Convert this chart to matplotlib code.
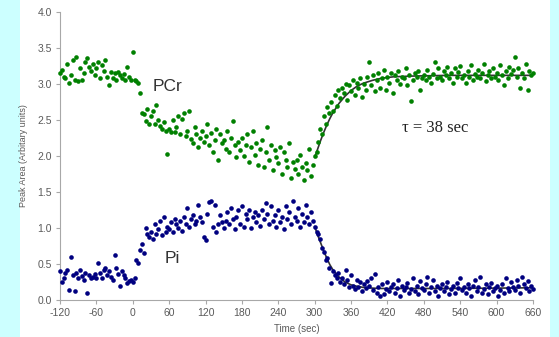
import numpy as np
import matplotlib
matplotlib.use("Agg")
import matplotlib.pyplot as plt
from matplotlib.patches import Rectangle

plt.rcParams["axes.unicode_minus"] = False

# sampling grid of the spectra (one every 3 sec)
time = np.arange(-120, 661, 3)

pcr = [
    3.15, 3.20, 3.10, 3.08, 3.28, 3.02, 3.12, 3.33, 3.05, 3.38,
    3.04, 3.22, 3.06, 3.15, 3.30, 3.36, 3.24, 3.18, 3.28, 3.12,
    3.22, 3.30, 3.08, 3.26, 3.18, 3.33, 3.10, 2.98, 3.17, 3.08,
    3.15, 3.05, 3.16, 3.12, 3.08, 3.14, 3.05, 3.23, 3.10, 3.06,
    3.45, 3.06, 3.04, 3.02, 2.88, 2.60, 2.58, 2.48, 2.65, 2.45,
    2.55, 2.62, 2.44, 2.71, 2.50, 2.42, 2.38, 2.47, 2.35, 2.03,
    2.37, 2.34, 2.50, 2.33, 2.40, 2.55, 2.30, 2.52, 2.60, 2.28,
    2.35, 2.62, 2.23, 2.18, 2.40, 2.30, 2.12, 2.25, 2.35, 2.20,
    2.28, 2.45, 2.15, 2.32, 2.05, 2.22, 2.38, 1.95, 2.30, 2.18,
    2.22, 2.10, 2.35, 2.05, 2.25, 2.48, 2.15, 1.98, 2.20, 2.08,
    2.25, 2.00, 2.15, 2.30, 1.92, 2.12, 2.35, 2.02, 2.18, 1.88,
    2.10, 2.22, 1.85, 2.05, 2.40, 1.95, 2.15, 1.80, 2.08, 1.98,
    1.90, 2.12, 1.75, 2.05, 1.95, 1.85, 2.18, 1.70, 1.92, 1.82,
    1.95, 1.75, 2.02, 1.85, 1.66, 1.90, 1.80, 2.10, 1.72, 1.88,
    2.00, 2.05, 2.20, 2.38, 2.30, 2.55, 2.45, 2.68, 2.60, 2.75,
    2.62, 2.85, 2.70, 2.92, 2.80, 2.95, 2.88, 3.00, 2.78, 2.98,
    2.90, 3.05, 2.85, 3.02, 2.95, 3.08, 2.82, 3.00, 2.92, 3.10,
    3.30, 2.98, 3.12, 2.90, 3.05, 3.15, 2.95, 3.08, 3.20, 2.92,
    3.10, 3.02, 3.15, 2.88, 3.12, 3.05, 3.18, 3.00, 3.10, 3.08,
    3.22, 2.98, 3.12, 2.76, 3.05, 3.15, 3.10, 3.18, 2.92, 3.08,
    3.12, 3.05, 3.20, 3.10, 3.02, 3.14, 3.31, 3.08, 3.22, 3.10,
    3.05, 3.18, 3.12, 3.24, 3.08, 3.15, 3.02, 3.22, 3.10, 3.16,
    3.25, 3.08, 3.12, 3.02, 3.18, 3.10, 3.26, 3.05, 3.14, 3.10,
    3.20, 3.08, 3.15, 3.28, 3.04, 3.12, 3.18, 3.08, 3.22, 3.10,
    3.15, 3.05, 3.26, 3.12, 2.98, 3.18, 3.08, 3.24, 3.14, 3.20,
    3.37, 3.10, 3.22, 2.95, 3.15, 3.08, 3.28, 2.92, 3.18, 3.12,
    3.15,
]

pi = [
    0.40, 0.25, 0.30, 0.38, 0.42, 0.14, 0.60, 0.35, 0.12, 0.38,
    0.30, 0.42, 0.33, 0.28, 0.38, 0.10, 0.35, 0.30, 0.32, 0.36,
    0.30, 0.52, 0.38, 0.30, 0.42, 0.45, 0.35, 0.40, 0.32, 0.28,
    0.62, 0.44, 0.36, 0.20, 0.40, 0.35, 0.30, 0.24, 0.26, 0.28,
    0.25, 0.30, 0.55, 0.52, 0.70, 0.78, 0.65, 1.00, 0.92, 0.88,
    0.95, 0.85, 1.05, 0.92, 0.98, 1.10, 0.90, 1.15, 0.95, 1.02,
    0.98, 1.08, 0.95, 1.12, 1.05, 1.00, 1.10, 0.96, 1.15, 1.05,
    1.28, 1.02, 1.12, 1.18, 1.05, 1.10, 1.32, 1.15, 1.08, 0.88,
    0.83, 1.20, 1.36, 1.38, 1.02, 1.32, 0.95, 1.05, 1.18, 1.08,
    1.00, 1.10, 1.22, 1.06, 1.28, 1.12, 0.98, 1.15, 1.25, 1.05,
    1.30, 1.02, 1.20, 1.12, 1.25, 1.00, 1.15, 1.22, 1.08, 1.18,
    1.03, 1.25, 1.12, 1.35, 1.20, 1.05, 1.30, 1.10, 1.18, 1.02,
    1.25, 1.08, 1.15, 0.98, 1.30, 1.12, 1.22, 1.05, 1.38, 1.15,
    1.10, 1.28, 1.02, 1.20, 1.08, 1.32, 1.15, 1.05, 1.22, 1.10,
    1.02, 0.95, 0.92, 0.85, 0.72, 0.66, 0.55, 0.58, 0.45, 0.24,
    0.40, 0.35, 0.30, 0.38, 0.25, 0.30, 0.22, 0.42, 0.28, 0.18,
    0.35, 0.20, 0.15, 0.28, 0.18, 0.25, 0.12, 0.22, 0.17, 0.26,
    0.20, 0.30, 0.14, 0.36, 0.10, 0.18, 0.06, 0.22, 0.08, 0.15,
    0.25, 0.12, 0.18, 0.22, 0.10, 0.16, 0.28, 0.05, 0.20, 0.14,
    0.18, 0.24, 0.10, 0.15, 0.30, 0.12, 0.20, 0.08, 0.26, 0.16,
    0.14, 0.22, 0.32, 0.10, 0.18, 0.28, 0.12, 0.20, 0.06, 0.16,
    0.22, 0.12, 0.18, 0.25, 0.08, 0.15, 0.20, 0.10, 0.24, 0.16,
    0.30, 0.14, 0.18, 0.10, 0.22, 0.16, 0.06, 0.20, 0.28, 0.12,
    0.18, 0.32, 0.10, 0.15, 0.22, 0.08, 0.18, 0.24, 0.12, 0.16,
    0.20, 0.06, 0.14, 0.22, 0.10, 0.30, 0.16, 0.12, 0.25, 0.18,
    0.14, 0.28, 0.20, 0.10, 0.32, 0.22, 0.16, 0.26, 0.12, 0.20,
    0.15,
]

# fitted recovery curves
fit_t = [300, 305, 310, 315, 320, 325, 330, 340, 350, 360, 370, 380,
         395, 410, 430, 460, 520, 600, 660]
pcr_fit = [1.98, 2.10, 2.22, 2.33, 2.43, 2.52, 2.60, 2.73, 2.83, 2.91, 2.97,
           3.01, 3.05, 3.08, 3.10, 3.11, 3.12, 3.12, 3.12]
pi_fit = [1.02, 0.90, 0.79, 0.68, 0.58, 0.49, 0.42, 0.32, 0.25, 0.21, 0.19,
          0.175, 0.165, 0.16, 0.16, 0.16, 0.16, 0.165, 0.17]

x_ticks = [-120, -60, 0, 60, 120, 180, 240, 300, 360, 420, 480, 540, 600, 660]
y_ticks = [0.0, 0.5, 1.0, 1.5, 2.0, 2.5, 3.0, 3.5, 4.0]

fig = plt.figure(figsize=(5.59, 3.37), dpi=100, facecolor="#ccffff")
# white panel behind the chart, cyan margins left and right
fig.patches.append(Rectangle((20 / 559, 0), 530 / 559, 1, transform=fig.transFigure,
                             facecolor="white", edgecolor="none", zorder=-10))
ax = fig.add_axes([60 / 559, 37 / 337, 473 / 559, 288 / 337])
ax.set_facecolor("none")

ax.plot(fit_t, pcr_fit, color="#333333", lw=1.2, zorder=2)
ax.plot(fit_t, pi_fit, color="#333333", lw=1.2, zorder=2)
ax.scatter(time, pcr, s=11, color="#008000", linewidths=0, zorder=3, clip_on=False)
ax.scatter(time, pi, s=11, color="#000080", linewidths=0, zorder=3, clip_on=False)

ax.text(58, 2.96, "PCr", fontsize=12.5, color="#333333", family="Liberation Sans",
        ha="center", va="center")
ax.text(65, 0.58, "Pi", fontsize=12.5, color="#333333", family="Liberation Sans",
        ha="center", va="center")
ax.text(499, 2.39, "\u03c4 = 38 sec", fontsize=12, color="#222222",
        family="Liberation Serif", ha="center", va="center")

ax.set_xlim(-120, 660)
ax.set_ylim(0, 4)
ax.set_xticks(x_ticks)
ax.set_yticks(y_ticks)
ax.set_yticklabels([f"{v:.1f}" for v in y_ticks])
for side in ["top", "right"]:
    ax.spines[side].set_visible(False)
for side in ["left", "bottom"]:
    ax.spines[side].set_color("#a8a8a8")
    ax.spines[side].set_linewidth(0.8)
ax.tick_params(axis="both", colors="#a8a8a8", labelcolor="#5a5a5a", labelsize=7.5,
               length=3, width=0.8, direction="out", pad=3)
for lab in ax.get_xticklabels() + ax.get_yticklabels():
    lab.set_family("Liberation Sans")

ax.set_xlabel("Time (sec)", fontsize=7, color="#5a5a5a", family="Liberation Sans")
ax.set_ylabel("Peak Area (Arbitary units)", fontsize=6.5, color="#5a5a5a",
              family="Liberation Sans")
ax.xaxis.set_label_coords(0.5, -0.085)
ax.yaxis.set_label_coords(-0.068, 0.5)

fig.savefig("out.png", dpi=100, facecolor=fig.get_facecolor())
